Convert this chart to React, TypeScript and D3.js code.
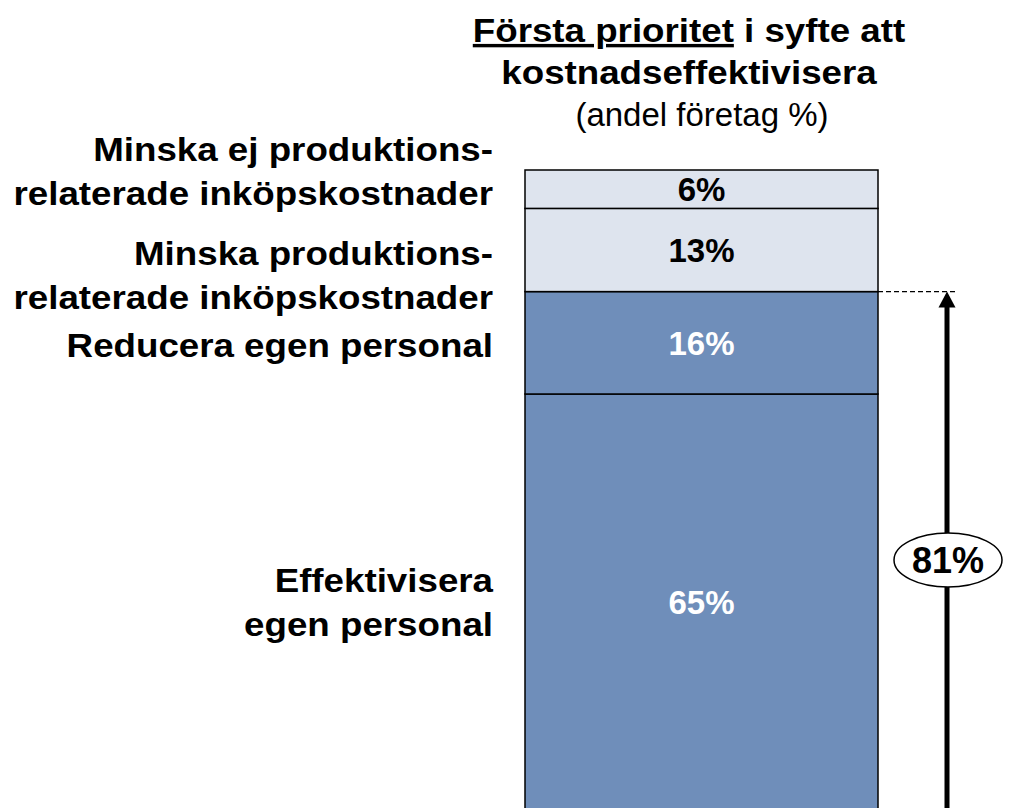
import * as d3 from "d3";
import { useEffect, useRef } from "react";

// stacked bar, bottom to top
const categories = [
  ["Effektivisera", "egen personal"],
  ["Reducera egen personal"],
  ["Minska produktions-", "relaterade inköpskostnader"],
  ["Minska ej produktions-", "relaterade inköpskostnader"],
];
const values = [65, 16, 13, 6];
const segColors = ["#6F8EBA", "#6F8EBA", "#DEE4EE", "#DEE4EE"];
const labelColors = ["#ffffff", "#ffffff", "#000000", "#000000"];
const highlightCount = 2; // bottom segments summed by the arrow

// labels are nudged off their segment centres so they don't collide
const labelShift = [0, 2, 25, -18];

const FONT = "'Liberation Sans', Arial, Helvetica, sans-serif";
const STRETCH = 1.08; // bold text in the original is a bit wider

const App = () => {
  const svgRef = useRef(null);

  useEffect(() => {
    const width = 1010;
    const height = 808;
    const svg = d3.select(svgRef.current);
    svg.selectAll("*").remove();

    const barLeft = 525;
    const barRight = 878;
    const barMid = (barLeft + barRight) / 2;
    const labelRight = 493;

    const y = d3.scaleLinear().domain([0, 100]).range([810, 170]);

    let acc = 0;
    const segs = values.map((v, i) => {
      const s = { i, v, y0: acc, y1: acc + v };
      acc += v;
      return s;
    });

    // title
    const tx = 689;
    const title = svg
      .append("text")
      .attr("transform", `translate(${tx},0) scale(${STRETCH},1)`)
      .attr("text-anchor", "middle")
      .attr("font-family", FONT)
      .attr("font-weight", "bold")
      .attr("font-size", 34)
      .attr("fill", "#000");
    const l1 = title.append("tspan").attr("x", 0).attr("y", 42);
    l1.append("tspan").attr("text-decoration", "underline").text("Första prioritet");
    l1.append("tspan").text(" i syfte att");
    title.append("tspan").attr("x", 0).attr("y", 84).text("kostnadseffektivisera");
    svg
      .append("text")
      .attr("x", 702)
      .attr("y", 126)
      .attr("text-anchor", "middle")
      .attr("font-family", FONT)
      .attr("font-size", 33)
      .attr("fill", "#000")
      .text("(andel företag %)");

    // bar segments
    svg
      .selectAll("rect.seg")
      .data(segs)
      .join("rect")
      .attr("class", "seg")
      .attr("x", barLeft)
      .attr("width", barRight - barLeft)
      .attr("y", (d) => y(d.y1))
      .attr("height", (d) => y(d.y0) - y(d.y1))
      .attr("fill", (d) => segColors[d.i])
      .attr("stroke", "#000")
      .attr("stroke-width", 1.5);

    // value labels
    svg
      .selectAll("text.val")
      .data(segs)
      .join("text")
      .attr("class", "val")
      .attr("x", barMid)
      .attr("y", (d) => (y(d.y0) + y(d.y1)) / 2)
      .attr("dy", "0.36em")
      .attr("text-anchor", "middle")
      .attr("font-family", FONT)
      .attr("font-weight", "bold")
      .attr("font-size", 33)
      .attr("fill", (d) => labelColors[d.i])
      .text((d) => d.v + "%");

    // category labels
    segs.forEach((d) => {
      const lines = categories[d.i];
      const cy = (y(d.y0) + y(d.y1)) / 2 + labelShift[d.i];
      const lh = 44;
      const t = svg
        .append("text")
        .attr("transform", `translate(${labelRight},0) scale(${STRETCH},1)`)
        .attr("text-anchor", "end")
        .attr("font-family", FONT)
        .attr("font-weight", "bold")
        .attr("font-size", 34)
        .attr("fill", "#000");
      lines.forEach((ln, k) => {
        t.append("tspan")
          .attr("x", 0)
          .attr("y", cy + (k - (lines.length - 1) / 2) * lh)
          .attr("dy", "0.36em")
          .text(ln);
      });
    });

    // arrow for highlighted total
    const total = d3.sum(values.slice(0, highlightCount));
    const arrowX = 947;
    const yTop = y(total);
    svg
      .append("line")
      .attr("x1", barRight)
      .attr("x2", arrowX + 9)
      .attr("y1", yTop)
      .attr("y2", yTop)
      .attr("stroke", "#000")
      .attr("stroke-width", 1.2)
      .attr("stroke-dasharray", "5,3");
    svg
      .append("line")
      .attr("x1", arrowX)
      .attr("x2", arrowX)
      .attr("y1", yTop + 12)
      .attr("y2", height + 5)
      .attr("stroke", "#000")
      .attr("stroke-width", 5);
    svg
      .append("path")
      .attr("d", `M${arrowX},${yTop} L${arrowX - 8.5},${yTop + 16} L${arrowX + 8.5},${yTop + 16} Z`)
      .attr("fill", "#000");

    const ey = 560;
    svg
      .append("ellipse")
      .attr("cx", arrowX + 1)
      .attr("cy", ey)
      .attr("rx", 54)
      .attr("ry", 27)
      .attr("fill", "#fff")
      .attr("stroke", "#000")
      .attr("stroke-width", 1.5);
    svg
      .append("text")
      .attr("x", arrowX + 1)
      .attr("y", ey)
      .attr("dy", "0.36em")
      .attr("text-anchor", "middle")
      .attr("font-family", FONT)
      .attr("font-weight", "bold")
      .attr("font-size", 36)
      .attr("fill", "#000")
      .text(total + "%");

    svg.attr("width", width).attr("height", height);
  }, []);

  return (
    <svg
      ref={svgRef}
      width={1010}
      height={808}
      style={{ position: "absolute", left: 0, top: 0, background: "#fff" }}
    ></svg>
  );
};

export default App;
